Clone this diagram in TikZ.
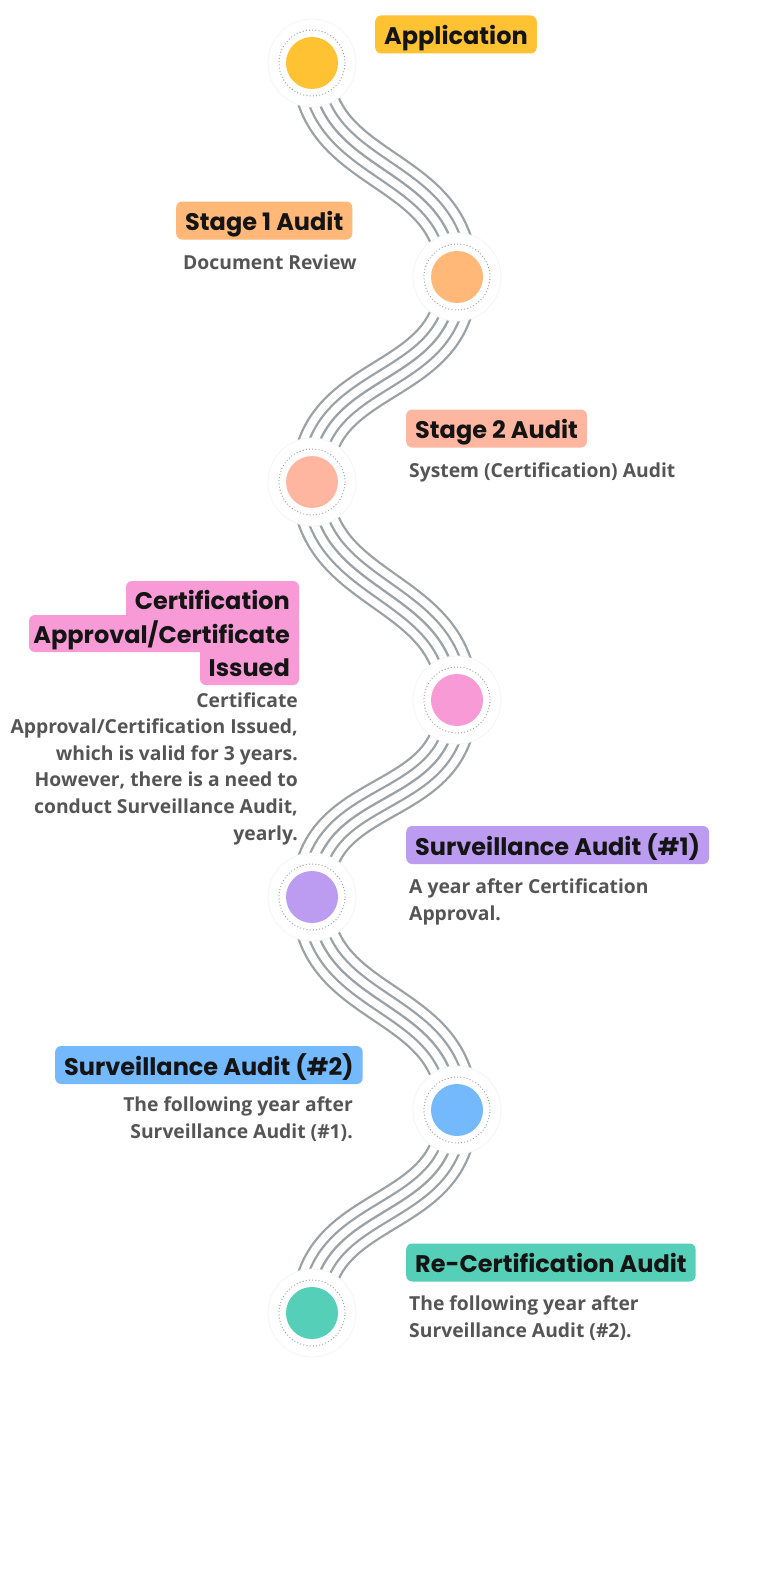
\documentclass[tikz,border=0pt]{standalone}
\usepackage{fontspec}
\setmainfont{Open Sans}
\newfontfamily\titlefont{Poppins}
\newfontfamily\descfont{Open Sans}
\definecolor{cA}{HTML}{FFC233}
\definecolor{cB}{HTML}{FFB878}
\definecolor{cC}{HTML}{FFB6A1}
\definecolor{cD}{HTML}{F79AD6}
\definecolor{cE}{HTML}{BC9CF0}
\definecolor{cF}{HTML}{74B9FC}
\definecolor{cG}{HTML}{55CFB8}
\definecolor{wire}{HTML}{9BA1A6}
\definecolor{ringgray}{HTML}{9A9EA3}
\definecolor{titletext}{HTML}{141414}
\definecolor{desctext}{HTML}{555555}
\tikzset{
  x=1pt, y=-1pt,
  halo/.style={circle, fill=white, draw=black!4, line width=0.8pt, minimum size=88pt, inner sep=0pt},
  ringline/.style={draw=ringgray, line width=1.3pt, line cap=round, dash pattern=on 0pt off 3.2pt},
  dotfill/.style={circle, minimum size=52pt, inner sep=0pt, fill=#1},
  titlefontstyle/.style={text=titletext, font=\titlefont\bfseries\fontsize{24}{28}\selectfont},
  titlebox/.style={titlefontstyle, fill=#1, rounded corners=6pt, inner xsep=9pt, inner ysep=0pt,
     text height=29pt, text depth=9pt},
  titleline/.style={titlefontstyle, anchor=base east, inner sep=0pt},
  desc/.style={text=desctext, inner sep=0pt, font=\descfont\bfseries\fontsize{19.3}{26.6}\selectfont},
}
% one bundle of five parallel curves = stacked strokes of decreasing width
\newcommand\wirebundle[2]{%
  \foreach \w/\c in {42.3/wire,37.7/white,22.3/wire,17.7/white,2.3/wire}{
    \draw[line width=\w pt, draw=\c] (#1) .. controls ([yshift=-115pt]#1) and ([yshift=115pt]#2) .. (#2);
  }%
}
\begin{document}
\begin{tikzpicture}
\useasboundingbox[fill=white] (0,0) rectangle (768,1584);
% circle centres
\coordinate (p1) at (312,63);
\coordinate (p2) at (457,277);
\coordinate (p3) at (312,482);
\coordinate (p4) at (457,700);
\coordinate (p5) at (312,897);
\coordinate (p6) at (457,1110);
\coordinate (p7) at (312,1313);
% connectors
\wirebundle{p1}{p2}
\wirebundle{p2}{p3}
\wirebundle{p3}{p4}
\wirebundle{p4}{p5}
\wirebundle{p5}{p6}
\wirebundle{p6}{p7}
% circles
\foreach \p/\c [count=\i] in {p1/cA,p2/cB,p3/cC,p4/cD,p5/cE,p6/cF,p7/cG}{
  \node[halo] (h\i) at (\p) {};
  \draw[ringline] (\p) circle (33pt);
  \node[dotfill=\c] (c\i) at (\p) {};
}
% titles and descriptions
\node[titlebox=cA, anchor=west] (t1) at (375,34.5) {Application};
\node[titlebox=cB, anchor=west] (t2) at (176,220.5) {Stage 1 Audit};
\node[desc, anchor=base west] (d2) at (183,269) {Document Review};
\node[titlebox=cC, anchor=west] (t3) at (406,428.5) {Stage 2 Audit};
\node[desc, anchor=base west] (d3) at (409,477) {System (Certification) Audit};
% certification multi-line title
\fill[cD, rounded corners=6pt] (126,581) rectangle (299,618);
\fill[cD, rounded corners=6pt] (29,615) rectangle (299,652);
\fill[cD, rounded corners=6pt] (200,648) rectangle (299,685);
\fill[cD] (126,610) rectangle (299,622);
\fill[cD] (200,645) rectangle (299,656);
\node[titleline] (t4a) at (290,609) {Certification};
\node[titleline] (t4b) at (290,643) {Approval/Certificate};
\node[titleline] (t4c) at (290,676) {Issued};
\node[desc, anchor=base east, align=right] (d4) at (298,840) {Certificate\\Approval/Certification Issued,\\which is valid for 3 years.\\However, there is a need to\\conduct Surveillance Audit,\\yearly.};
\node[titlebox=cE, anchor=west] (t5) at (406,845) {Surveillance Audit (\#1)};
\node[desc, anchor=base west, align=left] (d5) at (409,920) {A year after Certification\\Approval.};
\node[titlebox=cF, anchor=west] (t6) at (55,1065) {Surveillance Audit (\#2)};
\node[desc, anchor=base east, align=right] (d6) at (353,1138) {The following year after\\Surveillance Audit (\#1).};
\node[titlebox=cG, anchor=west] (t7) at (406,1262.5) {Re-Certification Audit};
\node[desc, anchor=base west, align=left] (d7) at (409,1337) {The following year after\\Surveillance Audit (\#2).};
\end{tikzpicture}
\end{document}
